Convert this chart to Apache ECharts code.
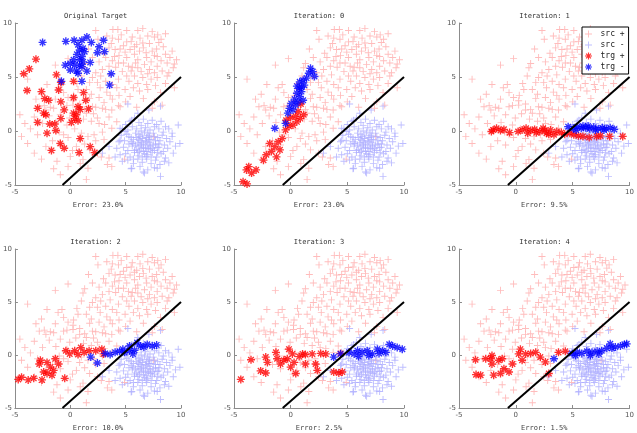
<!DOCTYPE html>
<html>
<head>
  <meta charset="utf-8">
  <title>Iterations</title>
  <script src="https://cdn.jsdelivr.net/npm/echarts@6/dist/echarts.min.js"></script>
</head>
<body style="margin:0">
  <div id="main" style="width:637px;height:433px;"></div>
  <script type="text/javascript">
    // source points (same in every panel)
    var srcPos = [
      [2.3,9.3],[2.5,8.5],[3.85,9.4],[4.3,9.4],[5.1,9.3],[6.1,9.3],[6.55,9.5],[7.0,8.8],[7.6,8.7],[7.9,8.9],[8.6,9.0],
      [3.8,8.6],[4.35,8.5],[3.7,8.1],[5.1,8.25],[5.5,8.3],[6.0,8.0],[6.55,8.15],[7.15,8.1],[8.0,8.2],[3.5,7.7],[4.05,7.55],
      [4.5,7.6],[4.95,7.3],[5.4,7.55],[5.8,7.1],[6.25,7.4],[6.85,7.25],[7.4,7.4],[7.85,6.9],[8.6,7.1],[9.0,6.8],[9.6,6.6],
      [1.65,7.6],[-0.2,6.7],[-1.35,6.1],[1.3,6.25],[1.15,5.85],[3.2,6.8],[3.8,6.5],[4.35,6.3],[3.5,6.0],[5.25,6.0],[5.5,5.55],
      [6.1,5.85],[6.7,6.15],[7.3,6.4],[7.15,5.7],[7.85,6.0],[8.3,5.55],[8.75,6.3],[9.3,5.85],[5.1,5.1],[5.8,5.1],[6.55,4.95],
      [7.3,4.8],[7.85,4.95],[8.75,5.1],[2.3,5.4],[2.75,5.1],[2.0,4.95],[1.75,4.5],[2.45,4.5],[3.2,4.6],[3.8,4.3],[4.35,4.8],
      [4.2,4.0],[4.95,3.85],[5.7,4.0],[6.25,3.7],[7.0,3.85],[8.15,3.55],[-3.85,4.8],[-2.1,4.3],[-0.75,4.3],[0.7,3.85],[1.45,3.85],
      [-0.6,3.55],[-0.2,3.1],[-1.35,2.95],[-3.1,2.95],[-2.35,2.35],[-1.8,2.2],[0.25,2.8],[0.85,2.5],[1.75,3.0],[2.6,3.1],[3.05,2.65],
      [2.3,2.2],[3.8,2.95],[4.35,2.35],[-0.3,2.35],[1.3,2.0],[3.2,2.0],
      [-2.8,2.25],[-2.2,1.95],[-1.5,2.1],[-0.6,2.25],[0.25,2.4],[0.85,1.95],[2.0,2.25],[2.9,2.1],[3.75,1.95],[4.5,2.25],
      [-4.55,1.5],[-3.25,1.3],[-0.9,1.5],[-0.05,1.2],[1.45,1.65],[2.45,1.2],[3.5,1.3],[4.2,0.85],[-4.1,0.7],[-2.5,0.7],
      [-0.3,0.55],[2.6,0.7],[3.75,0.25],[-4.4,-0.5],[-2.95,-0.35],[-0.6,-0.35],[0.85,-0.7],[2.15,-0.35],[3.05,-0.8],
      [-3.85,-1.15],[-2.2,-1.45],[-0.9,-1.3],[0.55,-1.45],[1.75,-1.75],[2.45,-2.05],[-3.25,-2.05],[0,-2.35],[1.15,-2.65],
      [3.5,-2.5],[-1.2,-2.8],[3.35,-3.1],[-0.2,-3.3],[1.6,-3.45],[-0.9,-4.05],[1.45,-4.5],[3.75,-3.3],
      [4.6,8.9],[5.6,8.7],[6.3,8.6],[7.4,9.2],[8.2,8.5],[3.3,8.8],[4.8,7.9],[5.8,7.8],[6.6,7.7],[7.8,7.6],[8.4,7.8],[9.2,7.4],
      [3.0,7.2],[4.4,7.0],[5.1,6.8],[6.1,6.6],[6.9,6.8],[7.6,7.0],[8.2,6.5],[9.4,6.2],[2.6,6.4],[4.1,5.9],[4.8,6.3],[5.9,6.3],
      [6.4,5.5],[7.6,5.4],[8.9,5.4],[2.9,5.7],[3.6,5.2],[4.7,5.5],[5.3,4.6],[6.1,4.4],[6.9,4.3],[7.7,4.2],[8.6,4.4],[9.4,4.0],
      [3.3,3.6],[4.4,3.3],[5.4,3.2],[6.6,3.0],[7.6,2.7],[8.3,2.4],[7.4,2.1],[2.0,6.8],[1.0,5.1],[0.6,4.4],[1.9,3.4],[2.7,4.0],
      [0.3,3.3],[-1.1,4.0],[-2.6,3.4],[-1.9,1.4],[-3.6,0.2],[-1.3,0.8],[0.5,1.6],[1.9,0.9],[2.9,-0.1],[1.0,-0.2],[-0.2,-0.6],
      [-1.6,-0.9],[1.3,-1.2],[2.3,-0.9],[0.2,-1.8],[-2.6,-2.6],[-1.5,-3.5],[0.9,-3.0],[2.8,-2.4],[7.5,-0.5],[4.9,-2.6],
      [1.2,1.1],[2.1,1.6],[3.1,0.6],[0.4,0.2],[-1.0,-0.1],[1.6,-0.5],[3.6,3.3],[5.0,2.7],[6.0,2.2],[5.6,5.9],[4.0,6.9],[7.0,5.3]
    ];
    var srcNeg = [
      [5.0,0.6],[5.4,0.9],[5.8,1.2],[6.2,0.8],[6.6,1.1],[7.0,0.7],[7.4,1.0],[7.8,0.6],[8.2,0.9],[8.6,0.4],
      [4.7,0.2],[5.2,0.1],[5.6,0.4],[6.0,0.2],[6.4,0.5],[6.8,0.3],[7.2,0.1],[7.6,0.4],[8.0,0.2],[8.4,-0.1],[8.9,0.2],
      [4.6,-0.4],[5.1,-0.3],[5.5,-0.6],[5.9,-0.2],[6.3,-0.5],[6.7,-0.1],[7.1,-0.4],[7.5,-0.2],[7.9,-0.6],[8.3,-0.4],[8.7,-0.7],[9.2,-0.5],
      [4.4,-1.0],[4.9,-0.9],[5.3,-1.2],[5.7,-0.8],[6.1,-1.1],[6.5,-0.7],[6.9,-1.0],[7.3,-0.8],[7.7,-1.2],[8.1,-0.9],[8.5,-1.3],[9.0,-1.0],
      [4.2,-1.6],[4.8,-1.5],[5.2,-1.8],[5.6,-1.4],[6.0,-1.7],[6.4,-1.3],[6.8,-1.6],[7.2,-1.4],[7.6,-1.8],[8.0,-1.5],[8.4,-1.9],[8.8,-1.6],[9.5,-1.4],
      [4.5,-2.2],[5.0,-2.1],[5.4,-2.4],[5.8,-2.0],[6.2,-2.3],[6.6,-1.9],[7.0,-2.2],[7.4,-2.0],[7.8,-2.4],[8.2,-2.1],[8.6,-2.5],
      [4.7,-2.8],[5.2,-2.7],[5.7,-3.0],[6.1,-2.6],[6.5,-2.9],[6.9,-2.6],[7.3,-3.0],[7.7,-2.7],[8.1,-3.1],[8.5,-2.8],
      [5.5,-3.5],[6.3,-3.3],[7.0,-3.6],[7.6,-3.4],[6.6,-3.8],
      [6.3,-0.9],[6.6,-1.2],[6.9,-0.6],[7.2,-1.1],[6.0,-0.6],[6.4,-1.6],[7.0,-1.3],[6.7,-2.1],[7.4,-1.6],[5.9,-1.3],
      [6.2,-0.3],[7.7,-0.9],[5.8,-1.8],[6.9,-1.9],[7.5,-1.3],[6.5,-2.4],[7.1,-0.8],[6.1,-2.0],[6.8,-0.9],[7.3,-2.4],
      [5.5,-1.0],[8.0,-1.2],[6.4,0.0],[7.6,-0.5],[5.3,-0.5],[6.6,-1.5],[7.9,-2.0],[6.2,-1.4],[7.0,-0.2],[5.7,-2.6],
      [5.2,2.5],[6.1,1.65],[7.1,1.95],[8.15,2.3],[9.75,0.55],[9.9,-1.15],[9.3,-2.05],[8.9,-2.95],[7.85,-3.45],[8.15,-4.2],
      [6.7,-3.9],[5.55,-3.45],[4.05,-2.4],[3.5,-1.45],[2.9,-2.05],[4.5,-0.85],[4.95,-0.05],[4.5,0.25],[5.55,1.0],[9.2,-0.2],
      [6.55,-0.45],[7.25,-1.75],[6.85,-2.35],[7.15,-0.55],[6.25,-1.85],[5.65,-1.15],[7.85,-1.55],[6.45,-1.05],[7.05,-1.6],[6.15,-0.75]
    ];

    // target points per panel
    var trgPos0 = [
      [-3.1,6.65],[-3.7,5.75],[-4.2,5.3],[-3.9,3.75],[-1.25,5.2],[-0.85,4.5],[-1.05,3.8],[0.3,4.6],[-2.6,3.65],[-2.3,3.0],
      [-1.95,2.85],[-0.85,2.7],[0.3,3.1],[1.4,2.85],[1.2,3.55],[-2.95,2.1],[-0.55,1.95],[0.7,2.25],[0.9,2.0],[1.65,2.05],
      [-2.4,1.65],[-2.2,1.5],[0.3,1.65],[0.55,1.5],[0.4,1.15],[-0.85,1.15],[-2.95,0.8],[-1.85,0.65],[-1.4,0.65],[0.1,0.8],
      [0.7,0.95],[-2.1,-0.2],[-1.3,0.05],[0.9,-0.7],[-0.9,-1.15],[-0.55,-1.6],[1.8,-1.45],[-1.7,-1.8],[0.8,-2.0],[2.2,-2.0]
    ];
    var trgNeg0 = [
      [-2.5,8.2],[-0.4,8.3],[0.35,8.4],[1.05,8.4],[1.5,8.7],[1.9,8.2],[3.0,8.4],[2.6,7.8],[2.45,7.25],[3.1,7.35],
      [0.7,8.0],[1.15,7.65],[0.85,7.5],[1.3,7.35],[0.6,7.1],[1.05,6.9],[0.3,6.6],[0.85,6.6],[1.15,6.4],[1.8,6.35],
      [-0.45,6.1],[0,6.25],[0.4,6.1],[0.85,6.1],[0,5.65],[0.55,5.55],[1.5,5.55],[1.05,5.95],[3.7,5.3],[-0.8,4.6],
      [1.05,4.6],[3.55,4.25],[0.7,5.35]
    ];
    var trgPos1 = [
      [0.9,2.5],[1.15,1.5],[0.45,1.35],[0.55,0.85],[0.2,0.55],[-0.15,0.45],[-0.45,0.1],[-0.75,-0.7],[-1.1,-1.0],[-1.4,-1.45],
      [-0.95,-1.75],[-1.85,-1.15],[-1.7,-1.9],[-2.15,-2.2],[-2.4,-2.7],[-1.25,-2.4],[-3.7,-3.3],[-3.9,-3.6],[-3.45,-3.9],
      [-3.05,-3.6],[-4.2,-4.7],[-3.85,-4.9],[0.0,1.25],[-0.4,1.0],[0.65,1.8],[0.85,1.15]
    ];
    var trgNeg1 = [
      [1.75,5.8],[1.95,5.5],[1.6,5.35],[2.1,5.05],[1.4,4.9],[1.1,4.7],[0.8,4.55],[1.2,4.25],[0.75,3.95],[0.95,3.65],
      [0.55,3.5],[0.8,3.2],[0.35,2.95],[0.05,2.55],[0.45,2.4],[-0.1,2.1],[0.2,1.95],[-0.25,1.65],[-0.45,0.7],[-1.4,0.25],
      [0.65,2.7],[1.1,2.85],[0.95,4.05],[0.55,4.15]
    ];
    var trgPos2 = [
      [-2.0,0.1],[-1.7,0.25],[-1.35,0.05],[-1.05,0.15],[-0.55,-0.15],[0.2,-0.05],[0.55,0.1],[0.9,0.25],[1.3,0.05],[1.65,0.15],
      [2.1,-0.05],[2.4,0.25],[2.7,-0.2],[3.05,0.1],[3.35,-0.35],[3.6,-0.05],[4.0,-0.15],[4.3,-0.3],[4.75,-0.2],[5.1,-0.35],
      [5.5,-0.45],[5.9,-0.5],[6.45,-0.6],[7.1,-0.5],[7.45,-0.45],[8.25,-0.5],[9.4,-0.5],[-2.15,-0.05],[1.05,-0.2],[1.8,-0.15],
      [2.55,0.05],[2.9,-0.3]
    ];
    var trgNeg2 = [
      [4.6,0.4],[5.05,0.25],[5.4,0.4],[5.75,0.25],[6.15,0.3],[6.5,0.2],[6.85,0.35],[7.25,0.2],[7.6,0.3],[7.95,0.2],
      [8.3,0.3],[8.65,0.15],[5.9,0.45],[7.0,0.1],[7.75,0.1],[5.3,0.1],[6.35,0.45]
    ];
    var trgPos3 = [
      [-4.7,-2.3],[-4.4,-2.1],[-3.8,-2.35],[-3.3,-2.2],[-2.8,-0.85],[-2.4,-1.6],[-2.55,-2.35],[-2.1,-0.7],[-1.8,-1.15],
      [-1.65,-1.9],[-1.35,-0.35],[-1.05,-0.85],[-1.5,-1.45],[-0.5,-2.2],[-0.4,0.4],[-0.05,0.1],[0.4,0.4],[0.7,0.05],
      [0.95,0.7],[1.25,0.25],[1.7,0.4],[2.3,0.4],[2.85,0.55],[3.0,0.1],[-2.1,-1.75],[-2.7,-0.5]
    ];
    var trgNeg3 = [
      [1.85,-0.2],[2.45,-0.75],[3.15,0.15],[3.6,0.05],[4.05,0.25],[4.45,0.35],[4.9,0.25],[5.35,0.4],[5.8,0.45],[6.05,1.15],
      [6.65,0.75],[6.95,1.0],[7.4,0.85],[7.8,0.95],[5.35,0.85],[4.75,0.55],[5.65,0.1],[6.35,0.85]
    ];
    var trgPos4 = [
      [-4.4,-2.3],[-3.5,-0.45],[-2.2,-0.2],[-2.05,-0.7],[-2.65,-1.5],[-2.2,-1.7],[-1.3,0.25],[-1.2,-0.35],[-0.9,-0.85],
      [-0.6,-0.5],[-0.15,0.55],[0.15,0.1],[-0.3,-0.35],[0.3,-0.7],[0,-1.15],[0.45,-1.75],[1.05,0.1],[1.3,0.05],[1.9,0.1],
      [2.2,-0.85],[2.65,0.15],[2.35,-1.45],[3.1,0.1],[3.8,-1.6],[4.25,-1.7],[4.4,0.15],[4.55,-1.6],[1.3,-0.85],[0.75,-0.15]
    ];
    var trgNeg4 = [
      [3.8,-0.2],[4.4,0.1],[5.15,0.25],[5.6,0.1],[5.9,0.4],[6.3,0.25],[6.75,0.4],[7.2,0.1],[7.65,0.55],[8.1,0.4],
      [8.7,1.0],[9.0,0.85],[9.4,0.7],[9.85,0.55],[8.4,0.25],[6.9,-0.05],[6.0,-0.15],[7.8,0.15]
    ];
    var trgPos5 = [
      [-3.55,-0.45],[-3.5,-1.85],[-3.1,-1.9],[-2.2,-0.35],[-2.1,-0.05],[-1.95,-1.9],[-1.5,-0.5],[-1.2,-0.35],[-1.35,-1.75],
      [-1.05,-1.3],[-0.6,-1.6],[-0.3,-0.85],[0.4,0.55],[0.25,0.1],[0.85,0.1],[1.3,0.15],[1.75,0.25],[2.15,-0.2],[2.6,-0.65],
      [2.9,-1.75],[3.75,0.25],[4.35,0.35],[0.55,-0.5],[-2.1,-0.85],[-2.65,-0.35]
    ];
    var trgNeg5 = [
      [3.35,-0.35],[4.95,0.15],[5.4,0.25],[5.8,0.15],[6.25,0.35],[6.7,0.25],[7.15,0.35],[7.55,0.4],[8.0,0.65],[8.3,1.05],
      [8.75,0.75],[9.2,0.85],[9.55,1.0],[9.75,1.05],[5.25,-0.05],[6.55,-0.05],[7.3,0.1],[8.45,0.65]
    ];

    var trgPos = [trgPos0, trgPos1, trgPos2, trgPos3, trgPos4, trgPos5];
    var trgNeg = [trgNeg0, trgNeg1, trgNeg2, trgNeg3, trgNeg4, trgNeg5];
    var titles = ['Original Target', 'Iteration: 0', 'Iteration: 1', 'Iteration: 2', 'Iteration: 3', 'Iteration: 4'];
    var errors = ['23.0%', '23.0%', '9.5%', '10.0%', '2.5%', '1.5%'];
    var boundary = [[-0.7, -5], [10, 5]];
    var legendNames = ['src +', 'src -', 'trg +', 'trg -'];

    var gridLeft = [10, 234, 459];
    var gridWidth = [171, 170, 171];
    var gridTop = [23, 249];
    var gridHeight = [162, 163];

    var plusPath = 'path://M-1,-0.13L1,-0.13L1,0.13L-1,0.13ZM-0.13,-1L0.13,-1L0.13,1L-0.13,1Z';
    var starPath = 'path://M-1,-0.17L1,-0.17L1,0.17L-1,0.17Z' +
      'M-0.17,-1L0.17,-1L0.17,1L-0.17,1Z' +
      'M-0.58,-0.82L0.82,0.58L0.58,0.82L-0.82,-0.58Z' +
      'M0.82,-0.58L-0.58,0.82L-0.82,0.58L0.58,-0.82Z';

    var mono = '"DejaVu Sans Mono", monospace';
    var grids = [], xAxes = [], yAxes = [], series = [], graphics = [];

    for (var i = 0; i < 6; i++) {
      var r = Math.floor(i / 3), c = i % 3;
      grids.push({ left: gridLeft[c], top: gridTop[r], width: gridWidth[c], height: gridHeight[r] });
      var axisCommon = {
        gridIndex: i, type: 'value', min: -5, max: 10, interval: 5,
        axisLine: { show: true, onZero: false, lineStyle: { color: '#8c8c8c', width: 1 } },
        axisTick: { show: true, inside: true, length: 3, lineStyle: { color: '#8c8c8c' } },
        axisLabel: { fontSize: 7, color: '#555', fontFamily: 'DejaVu Sans', margin: 3 },
        splitLine: { show: false }
      };
      xAxes.push(Object.assign({}, axisCommon, {
        name: 'Error: ' + errors[i], nameLocation: 'middle', nameGap: 17,
        nameTextStyle: { fontSize: 7, color: '#444', fontFamily: mono },
        axisLabel: Object.assign({}, axisCommon.axisLabel, { margin: 4 })
      }));
      yAxes.push(Object.assign({}, axisCommon));

      graphics.push({
        type: 'text', x: gridLeft[c] + gridWidth[c] / 2, y: gridTop[r] - 7,
        style: { text: titles[i], fill: '#333', font: '7px ' + mono, textAlign: 'center', textVerticalAlign: 'middle', align: 'center', verticalAlign: 'middle' }
      });

      series.push({
        name: 'src +', type: 'scatter', xAxisIndex: i, yAxisIndex: i, data: srcPos,
        symbol: plusPath, symbolSize: 7, itemStyle: { color: '#ffabab' }, z: 1
      });
      series.push({
        name: 'src -', type: 'scatter', xAxisIndex: i, yAxisIndex: i, data: srcNeg,
        symbol: plusPath, symbolSize: 7, itemStyle: { color: '#adadff' }, z: 2
      });
      series.push({
        name: 'trg +', type: 'scatter', xAxisIndex: i, yAxisIndex: i, data: trgPos[i],
        symbol: starPath, symbolSize: 8, itemStyle: { color: '#ff0000' }, z: 3
      });
      series.push({
        name: 'trg -', type: 'scatter', xAxisIndex: i, yAxisIndex: i, data: trgNeg[i],
        symbol: starPath, symbolSize: 8, itemStyle: { color: '#0000ff' }, z: 4
      });
      series.push({
        type: 'line', xAxisIndex: i, yAxisIndex: i, data: boundary, showSymbol: false,
        lineStyle: { color: '#000', width: 2 }, z: 5, silent: true
      });
    }

    var myChart = echarts.init(document.getElementById('main'));
    var option = {
      animation: false,
      backgroundColor: '#fff',
      grid: grids,
      xAxis: xAxes,
      yAxis: yAxes,
      series: series,
      graphic: graphics,
      legend: {
        data: legendNames, orient: 'vertical', left: 582, top: 27,
        itemWidth: 14, itemHeight: 7, itemGap: 3, padding: [3, 4, 3, 3],
        backgroundColor: '#fff', borderColor: '#000', borderWidth: 1, borderRadius: 0,
        textStyle: { fontSize: 8, color: '#222', fontFamily: mono }
      }
    };
    myChart.setOption(option);
  </script>
</body>
</html>
